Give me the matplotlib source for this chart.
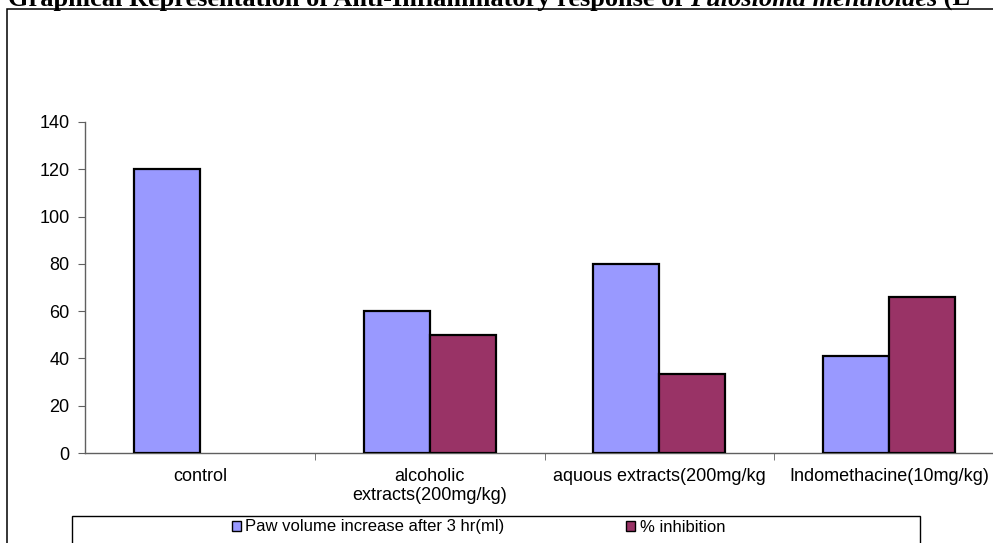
import matplotlib
matplotlib.use("Agg")
import matplotlib.pyplot as plt
import matplotlib.patches as mpatches
import numpy as np

# data
categories = ["control", "alcoholic\nextracts(200mg/kg)", "aquous extracts(200mg/kg", "Indomethacine(10mg/kg)"]
paw_volume = [120, 60, 80, 41]
inhibition = [np.nan, 50, 33.33, 65.83]   # no bar for control
series_names = ["Paw volume increase after 3 hr(ml)", "% inhibition"]
yticks = [0, 20, 40, 60, 80, 100, 120, 140]

W, H = 993, 543
fig = plt.figure(figsize=(W / 100, H / 100), dpi=100)
plt.rcParams['font.family'] = 'Liberation Sans'

# axes placed in pixel terms (right edge runs past the cropped picture)
left, right, top, bottom = 85, 1004, 122, 453
ax = fig.add_axes([left / W, (H - bottom) / H, (right - left) / W, (bottom - top) / H])

x = np.arange(len(categories))
w = 0.287
ax.bar(x - w / 2, paw_volume, w, color='#9999FF', edgecolor='black', linewidth=1.6, label=series_names[0], zorder=3)
ax.bar(x + w / 2, inhibition, w, color='#993366', edgecolor='black', linewidth=1.6, label=series_names[1], zorder=3)

ax.set_xlim(-0.5, len(categories) - 0.5)
ax.set_ylim(0, 140)
ax.set_yticks(yticks)
ax.set_xticks(x)
ax.set_xticklabels(categories, fontsize=13, linespacing=1.1)
ax.set_xticks(np.arange(len(categories)) + 0.5, minor=True)
ax.tick_params(axis='x', which='major', length=0, pad=11)
ax.tick_params(axis='x', which='minor', length=5, direction='out', color='#606060')
ax.tick_params(axis='y', length=5, direction='out', color='#606060', labelsize=13, pad=6)

for s in ['top', 'right']:
    ax.spines[s].set_visible(False)
for s in ['left', 'bottom']:
    ax.spines[s].set_color('#606060')
    ax.spines[s].set_linewidth(1.0)

# outer frame of the chart (cropped at the right and bottom)
fig.patches.append(mpatches.Rectangle((7 / W, -0.1), 1.2, 1.1 - 9.5 / H, transform=fig.transFigure,
                                      fill=False, edgecolor='black', linewidth=1.1))

# legend box
fig.patches.append(mpatches.Rectangle((72 / W, -0.1), (920 - 72) / W, 0.1 + (H - 515.5) / H,
                                      transform=fig.transFigure, fill=False, edgecolor='black', linewidth=1.0))
leg = fig.legend(loc='center left', bbox_to_anchor=(232 / W, (H - 527) / H), ncol=2, frameon=False,
                 fontsize=12, handlelength=0.55, handleheight=0.55, handletextpad=0.25,
                 columnspacing=7.3, borderpad=0, borderaxespad=0)
for p in leg.get_patches():
    p.set_linewidth(1.0)

# title, cropped at the top of the picture
t1 = fig.text(8 / W, 1 - 6 / H, "Graphical Representation of Anti-Inflammatory response of ",
              fontsize=19, fontweight='bold', family='Liberation Serif', va='baseline', ha='left')
fig.canvas.draw()
bb = t1.get_window_extent()
t2 = fig.text(bb.x1 / W, 1 - 6 / H, "Pulosioma menthoides",
              fontsize=19, fontweight='bold', style='italic', family='Liberation Serif', va='baseline', ha='left')
bb2 = t2.get_window_extent(renderer=fig.canvas.get_renderer())
fig.text(bb2.x1 / W, 1 - 6 / H, " (L",
         fontsize=19, fontweight='bold', family='Liberation Serif', va='baseline', ha='left')

fig.savefig("out.png", dpi=100)
